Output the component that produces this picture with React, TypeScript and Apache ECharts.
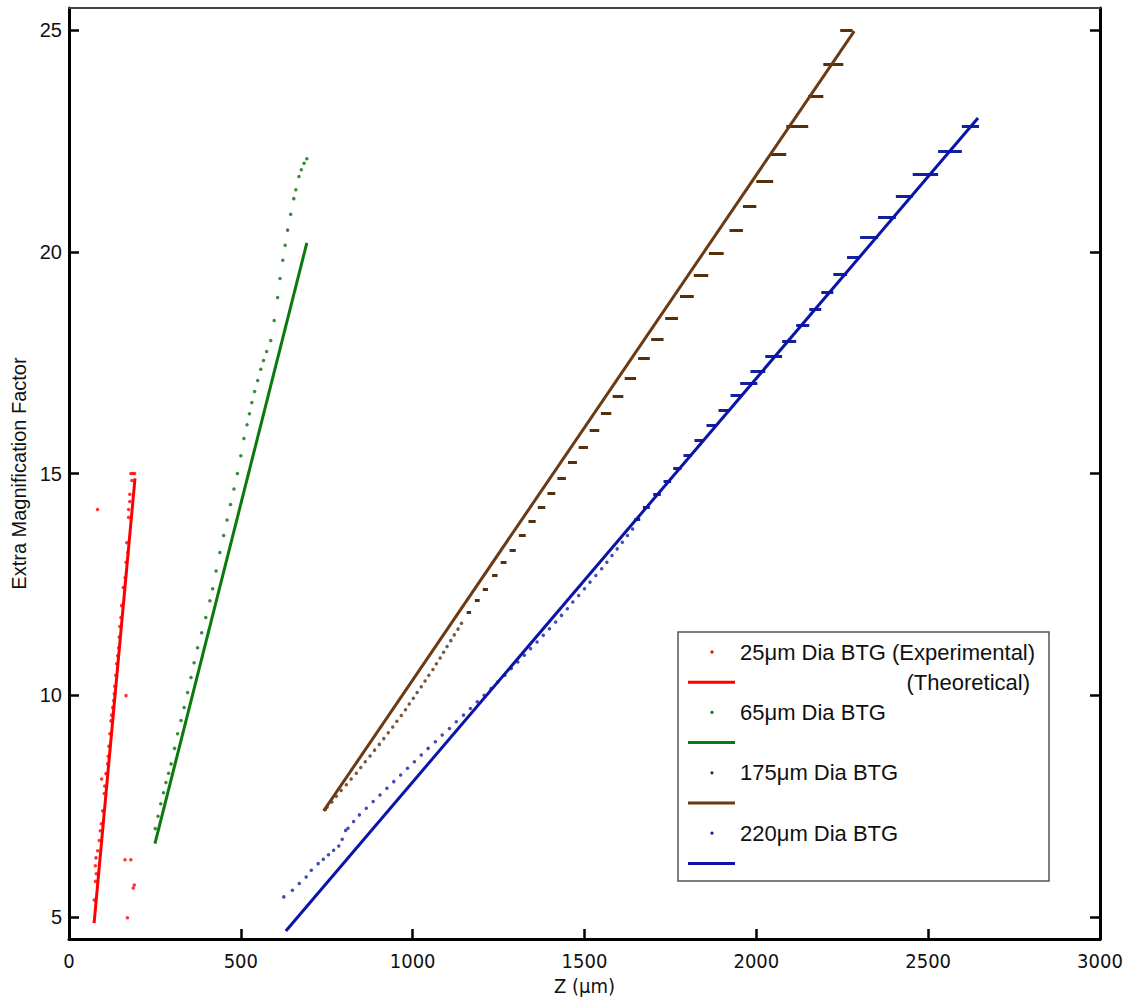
import React, { useEffect, useRef } from "react";
import * as echarts from "echarts";

// ---------- data ----------
const xTicks = [0, 500, 1000, 1500, 2000, 2500, 3000];
const yTicks = [5, 10, 15, 20, 25];

// 25 µm fibre: experimental [X, Y]
const redDots: number[][] = [
  [183, 14.84], [177, 14.53], [177, 14.37], [173.5, 14.19], [173.5, 14.01], [168, 13.44], [171, 13.22],
  [166, 13.0], [163, 12.65], [158, 12.43], [153, 12.02], [151, 11.75], [148, 11.55], [146, 11.31],
  [144.5, 11.07], [141.6, 10.89], [138.7, 10.71], [136, 10.45], [133, 10.2], [131.7, 10.03], [130, 9.88],
  [127, 9.72], [124, 9.55], [122, 9.42], [119, 9.13], [116, 8.85], [114, 8.62], [112.5, 8.45], [107.6, 8.23],
  [104, 7.95], [102.6, 7.78], [98, 7.39], [94, 7.1], [91, 6.94], [88, 6.72], [83.4, 6.49], [78.5, 6.33],
  [76.5, 6.15], [79.4, 5.97], [77, 5.8], [73.5, 5.38],
  [180, 15.0], [186, 15.0], [191, 15.0],
  [83, 14.19], [166, 9.99], [163, 6.29], [180, 6.29], [190, 5.72], [187, 5.65], [170, 4.98], [95, 8.11],
];
const redTheory: number[][] = [[73, 4.86], [192, 14.89]];

// 65 µm fibre
const greenDots: number[][] = [
  [251, 6.99], [259, 7.27], [267, 7.55], [275, 7.8], [282, 8.03], [290, 8.24], [297, 8.45], [307, 8.8],
  [316, 9.13], [326, 9.43], [335, 9.72], [345, 10.06], [355, 10.4], [364, 10.73], [374, 11.07], [386, 11.41],
  [398, 11.75], [410, 12.13], [418, 12.4], [428, 12.8], [439, 13.22], [450, 13.6], [460, 13.95], [470, 14.3],
  [480, 14.65], [490, 15.0], [500, 15.4], [509, 15.79], [518, 16.1], [525, 16.35], [532, 16.6], [540, 16.85],
  [549, 17.1], [558, 17.35], [566, 17.55], [575, 17.75], [587, 18.0], [597, 18.45], [607, 18.97], [614, 19.4],
  [622, 19.81], [629, 20.15], [636, 20.49], [645, 20.85], [654, 21.2], [660, 21.4], [669, 21.7], [676, 21.85],
  [684, 22.0], [692, 22.1],
];
const greenTheory: number[][] = [[250, 6.65], [692, 20.2]];

// 175 µm fibre: stepped rows [Y, Xstart, Xend] and single dots [X, Y]
const brownSteps: number[][] = [
  [25.0, 2244, 2280], [24.23, 2195, 2253], [23.51, 2151, 2195], [22.84, 2087, 2151], [22.2, 2041, 2087],
  [21.6, 2000, 2049], [21.03, 1961, 2000], [20.49, 1922, 1961], [19.97, 1862, 1905], [19.47, 1818, 1860],
  [19.0, 1778, 1818], [18.5, 1735, 1772], [18.03, 1694, 1730], [17.6, 1656, 1690], [17.14, 1617, 1650],
  [16.74, 1582, 1613], [16.35, 1548, 1578], [15.97, 1515, 1543], [15.6, 1483, 1510], [15.25, 1452, 1478],
  [14.89, 1421, 1446], [14.55, 1392, 1415], [14.23, 1364, 1386], [13.92, 1337, 1358], [13.6, 1309, 1329],
  [13.28, 1282, 1300], [12.99, 1256, 1273], [12.7, 1231, 1247], [12.4, 1204, 1219], [12.13, 1181, 1195],
  [11.86, 1157, 1170],
];
const brownDots: number[][] = [
  [1142, 11.62], [1132, 11.49], [1121, 11.36], [1111, 11.23], [1100, 11.1], [1090, 10.97], [1080, 10.84],
  [1069, 10.71], [1059, 10.58], [1047, 10.45], [1036, 10.32], [1025, 10.19], [1013, 10.06], [1002, 9.93],
  [990, 9.8], [979, 9.67], [967, 9.54], [954, 9.41], [942, 9.28], [929, 9.15], [916, 9.02], [903, 8.89],
  [889, 8.76], [876, 8.63], [862, 8.5], [849, 8.37], [836, 8.24], [821, 8.11], [807, 7.98], [792, 7.85],
  [778, 7.72], [765, 7.59], [751, 7.47], [746, 7.42],
];
const brownTheory: number[][] = [[741, 7.39], [2285, 24.98]];

// 220 µm fibre
const blueSteps: number[][] = [
  [22.83, 2598, 2648], [22.28, 2529, 2598], [21.75, 2455, 2529], [21.26, 2406, 2455], [20.79, 2354, 2406],
  [20.33, 2302, 2354], [19.88, 2264, 2302], [19.49, 2224, 2264], [19.09, 2189, 2224], [18.7, 2154, 2189],
  [18.34, 2116, 2154], [17.99, 2075, 2116], [17.64, 2026, 2075], [17.31, 1983, 2026], [17.03, 1953, 2003],
  [16.76, 1925, 1960], [16.42, 1890, 1922], [16.08, 1855, 1885], [15.74, 1820, 1848], [15.41, 1788, 1812],
  [15.11, 1758, 1782], [14.82, 1730, 1752], [14.53, 1700, 1722], [14.23, 1670, 1690], [13.96, 1645, 1662],
];
const blueDots: number[][] = [
  [1640, 13.75], [1625, 13.6], [1610, 13.45], [1595, 13.3], [1580, 13.15], [1565, 13.0], [1550, 12.85],
  [1533, 12.7], [1516, 12.55], [1500, 12.4], [1483, 12.25], [1466, 12.1], [1450, 11.95], [1433, 11.8],
  [1416, 11.65], [1398, 11.5], [1380, 11.35], [1362, 11.2], [1343, 11.05], [1325, 10.9], [1306, 10.75],
  [1287, 10.6], [1268, 10.45], [1248, 10.3], [1228, 10.15], [1208, 10.0], [1188, 9.85], [1168, 9.7],
  [1148, 9.55], [1127, 9.4], [1107, 9.25], [1086, 9.1], [1066, 8.95], [1045, 8.8], [1025, 8.65], [1005, 8.5],
  [985, 8.35], [965, 8.2], [945, 8.05], [925, 7.9], [905, 7.75], [885, 7.6], [865, 7.45], [845, 7.3],
  [828, 7.15], [812, 7.0], [805, 6.95], [795, 6.75], [785, 6.6], [770, 6.5], [755, 6.4], [740, 6.3],
  [725, 6.2], [705, 6.05], [690, 5.9], [670, 5.75], [650, 5.6], [625, 5.45],
];
const blueTheory: number[][] = [[631, 4.68], [2645, 23.02]];

const legendRows = [
  { kind: "dot", color: "#ff0000", label: "25\u03bcm Dia BTG (Experimental)" },
  { kind: "line", color: "#ff0000", label: "(Theoretical)" },
  { kind: "dot", color: "#0b7a0b", label: "65\u03bcm Dia BTG" },
  { kind: "line", color: "#0a7a0a", label: "" },
  { kind: "dot", color: "#4a2a10", label: "175\u03bcm Dia BTG" },
  { kind: "line", color: "#6b3a12", label: "" },
  { kind: "dot", color: "#1020a0", label: "220\u03bcm Dia BTG" },
  { kind: "line", color: "#0a14a8", label: "" },
];

const COLORS = {
  red: "#ff0000",
  greenDot: "#0b6e0b",
  green: "#0a7a0a",
  brownDot: "#55300e",
  brown: "#6b3a12",
  blueDot: "#14209c",
  blue: "#0a14a8",
};

const NARROW = "'Liberation Sans Narrow', 'DejaVu Sans Condensed', 'Liberation Sans', Arial, sans-serif";
const SANS = "'Liberation Sans', Arial, sans-serif";

export default function App() {
  const ref = useRef<HTMLDivElement>(null);

  useEffect(() => {
    if (!ref.current) return;
    const chart = echarts.init(ref.current, undefined, { renderer: "svg" });

    const stepData = (rows: number[][]) =>
      rows.map((r) => ({ coords: [[r[1], r[0]], [r[2], r[0]]] }));

    const dotSeries = (data: number[][], color: string) => ({
      type: "scatter",
      data,
      symbol: "circle",
      symbolSize: 3.5,
      itemStyle: { color },
      z: 3,
      silent: true,
    });
    const lineSeries = (data: number[][], color: string) => ({
      type: "line",
      data,
      showSymbol: false,
      symbol: "none",
      lineStyle: { color, width: 3 },
      z: 4,
      silent: true,
    });
    const stepSeries = (rows: number[][], color: string) => ({
      type: "lines",
      coordinateSystem: "cartesian2d",
      data: stepData(rows),
      lineStyle: { color, width: 3, opacity: 1 },
      z: 3,
      silent: true,
    });

    const LX = 678, LY = 632, LW = 371, LH = 249;
    const rowY0 = 652, rowDy = 30.2;
    const legendEls: any[] = [
      {
        type: "rect",
        shape: { x: LX, y: LY, width: LW, height: LH },
        style: { fill: "#fff", stroke: "#555", lineWidth: 1.5 },
        z: 100,
      },
    ];
    legendRows.forEach((r, i) => {
      const y = rowY0 + i * rowDy;
      if (r.kind === "dot") {
        legendEls.push({ type: "circle", shape: { cx: 712, cy: y, r: 1.6 }, style: { fill: r.color }, z: 101 });
        legendEls.push({
          type: "text",
          x: 740,
          y,
          style: {
            text: r.label, fill: "#111", font: "22px 'Liberation Sans', Arial, sans-serif",
            align: "left", verticalAlign: "middle", textAlign: "left", textVerticalAlign: "middle",
          },
          z: 101,
        });
      } else {
        legendEls.push({
          type: "line",
          shape: { x1: 688, y1: y, x2: 735, y2: y },
          style: { stroke: r.color, lineWidth: 3 },
          z: 101,
        });
        if (r.label) {
          legendEls.push({
            type: "text",
            x: 1030,
            y,
            style: {
              text: r.label, fill: "#111", font: "22px 'Liberation Sans', Arial, sans-serif",
              align: "right", verticalAlign: "middle", textAlign: "right", textVerticalAlign: "middle",
            },
            z: 101,
          });
        }
      }
    });

    chart.setOption({
      animation: false,
      backgroundColor: "#fff",
      grid: { left: 69, right: 41, top: 8, bottom: 58, containLabel: false, outerBoundsMode: "none" },
      xAxis: [
        {
          type: "value",
          position: "bottom",
          min: 0,
          max: 3000,
          interval: 500,
          splitLine: { show: false },
          axisLine: { show: true, onZero: false, lineStyle: { color: "#000", width: 3 } },
          axisTick: { show: true, inside: true, length: 10, lineStyle: { color: "#000", width: 2.5 } },
          axisLabel: {
            show: true, margin: 12, color: "#111", fontSize: 20, fontFamily: NARROW,
            formatter: (v: number) => (xTicks.includes(v) ? String(v) : ""),
          },
          name: "Z (\u03bcm)",
          nameLocation: "middle",
          nameGap: 35,
          nameTextStyle: { color: "#111", fontSize: 20, fontFamily: NARROW },
        },
        {
          type: "value",
          position: "top",
          min: 0,
          max: 3000,
          splitLine: { show: false },
          axisLine: { show: true, onZero: false, lineStyle: { color: "#444", width: 2 } },
          axisTick: { show: false },
          axisLabel: { show: false },
        },
      ],
      yAxis: [
        {
          type: "value",
          position: "left",
          min: 4.5,
          max: 25.5,
          splitLine: { show: false },
          axisLine: { show: true, onZero: false, lineStyle: { color: "#000", width: 3 } },
          axisTick: { show: true, inside: true, length: 10, customValues: yTicks, lineStyle: { color: "#000", width: 2.5 } },
          axisLabel: {
            show: true, margin: 7, color: "#111", fontSize: 20, customValues: yTicks, fontFamily: SANS,
          },
          name: "Extra Magnification Factor",
          nameLocation: "middle",
          nameRotate: 90,
          nameGap: 38,
          nameTextStyle: { color: "#111", fontSize: 20, fontFamily: SANS },
        },
        {
          type: "value",
          position: "right",
          min: 4.5,
          max: 25.5,
          splitLine: { show: false },
          axisLine: { show: true, onZero: false, lineStyle: { color: "#000", width: 3 } },
          axisTick: { show: true, inside: true, length: 10, customValues: yTicks, lineStyle: { color: "#000", width: 2.5 } },
          axisLabel: { show: false },
        },
      ],
      series: [
        dotSeries(redDots, COLORS.red),
        lineSeries(redTheory, COLORS.red),
        dotSeries(greenDots, COLORS.greenDot),
        lineSeries(greenTheory, COLORS.green),
        dotSeries(brownDots, COLORS.brownDot),
        stepSeries(brownSteps, COLORS.brownDot),
        lineSeries(brownTheory, COLORS.brown),
        dotSeries(blueDots, COLORS.blueDot),
        stepSeries(blueSteps, COLORS.blueDot),
        lineSeries(blueTheory, COLORS.blue),
      ],
      graphic: legendEls,
    });

    return () => chart.dispose();
  }, []);

  return (
    <div
      ref={ref}
      style={{ position: "fixed", left: 0, top: 0, width: 1141, height: 997, background: "#fff" }}
    />
  );
}
